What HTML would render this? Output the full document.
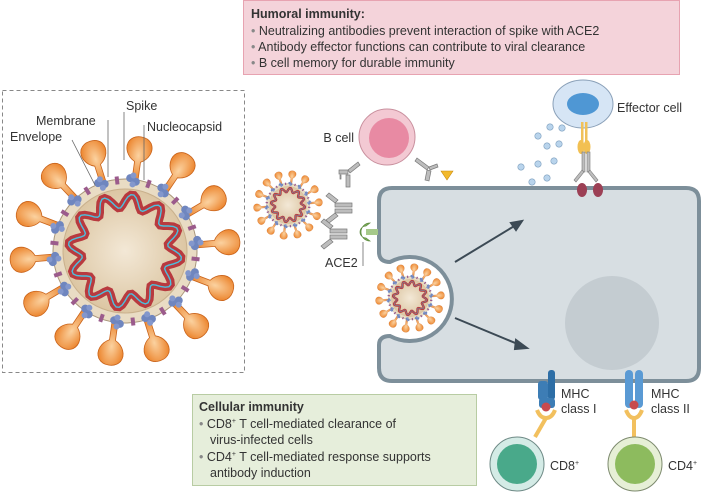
<!DOCTYPE html>
<html><head><style>
body{margin:0;background:#fff;}
svg{display:block;font-family:"Liberation Sans",sans-serif;}
</style></head><body>
<svg id="s" width="703" height="495" viewBox="0 0 703 495" xmlns="http://www.w3.org/2000/svg">
<defs>
<radialGradient id="core" cx="50%" cy="50%" r="50%"><stop offset="0" stop-color="#f3e8d6"/><stop offset="1" stop-color="#dcc6a3"/></radialGradient>
<radialGradient id="bulb" cx="50%" cy="40%" r="60%"><stop offset="0" stop-color="#fbd2a0"/><stop offset="1" stop-color="#ea7b1f"/></radialGradient>
<g id="virus">
  <g id="spikes"></g>
  <circle r="72" fill="#e9dcc4" stroke="#a9967a" stroke-width="1"/>
  <g id="dots"></g>
  <circle r="62" fill="url(#core)" stroke="#c9b08c" stroke-width="1"/>
  <path id="rna" fill="none" stroke="#b83a3f" stroke-width="8" stroke-linecap="round"/>
  <path id="rna2" fill="none" stroke="#4cc0de" stroke-width="1.4"/>
</g>
</defs>

<!-- humoral box -->
<rect x="243.5" y="0.5" width="436" height="74" fill="#f4d3da" stroke="#e7a3b1"/>
<text x="251" y="18" font-size="12.5" font-weight="bold" fill="#333">Humoral immunity:</text>
<text x="251" y="35" font-size="12.5" fill="#333"><tspan fill="#888">•</tspan> Neutralizing antibodies prevent interaction of spike with ACE2</text>
<text x="251" y="51" font-size="12.5" fill="#333"><tspan fill="#888">•</tspan> Antibody effector functions can contribute to viral clearance</text>
<text x="251" y="67" font-size="12.5" fill="#333"><tspan fill="#888">•</tspan> B cell memory for durable immunity</text>

<!-- dashed box -->
<rect x="2.5" y="90.5" width="242" height="282" fill="none" stroke="#888" stroke-dasharray="4,3"/>
<use href="#virus" transform="translate(125,251)"/>
<g stroke="#666" stroke-width="0.8" fill="none">
<line x1="124" y1="112" x2="124" y2="160"/>
<line x1="108" y1="120" x2="108" y2="177"/>
<line x1="72" y1="140" x2="95" y2="185"/>
<line x1="144" y1="125" x2="144" y2="180"/>
</g>
<g font-size="12.5" fill="#333">
<text x="126" y="110">Spike</text>
<text x="36" y="125">Membrane</text>
<text x="10" y="141">Envelope</text>
<text x="147" y="131">Nucleocapsid</text>
</g>

<!-- cell -->
<path d="M398,188 H686 Q699,188 699,201 V368 Q699,381 686,381 H392 Q379,381 379,368 V345 Q379,336 390,336 A42,42 0 1 0 390,262 Q379,262 379,252 V201 Q379,188 392,188 Z" fill="#d7dee2" stroke="#7d8f9a" stroke-width="4"/>
<circle cx="612" cy="323" r="47" fill="#c4ccd1"/>
<g stroke="#3c4a55" stroke-width="2" fill="#3c4a55">
<line x1="455" y1="262" x2="516" y2="225"/>
<path d="M522,221 L511,223 L516,230 Z"/>
<line x1="455" y1="318" x2="520" y2="345"/>
<path d="M527,348 L516,340 L515,349 Z"/>
</g>
<use href="#virus" transform="translate(410,298) scale(0.3)"/>
<use href="#virus" transform="translate(288,205) scale(0.3)"/>

<!-- ACE2 -->
<rect x="366" y="229" width="12" height="6" fill="#a6c98a"/>
<path d="M370,223 A8,8 0 1 0 370,241 L366,238 A5,5 0 0 1 366,226 Z" fill="#7fb05b" stroke="#5c8a3e" stroke-width="0.7"/>
<line x1="363" y1="242" x2="363" y2="266" stroke="#555" stroke-width="0.7"/>
<text x="325" y="267" font-size="12.5" fill="#333">ACE2</text>

<!-- antibodies -->
<g fill="#bdbdbd" stroke="#7a7a7a" stroke-width="0.7">
<!-- near small virus -->
<path d="M335,203 h17 v4 h-17z M335,209 h17 v4 h-17z M335,203 l-9,-7 l3,-3 l9,7z M335,213 l-9,7 l3,3 l9,-7z"/>
<path d="M330,229 h17 v4 h-17z M330,235 h17 v4 h-17z M330,229 l-9,-7 l3,-3 l9,7z M330,239 l-9,7 l3,3 l9,-7z"/>
<!-- left of B cell -->
<path d="M358,162 l-10,8 l2,3 l10,-8z M348,170 h-9 v4 h9z M346,175 v12 h4 v-12z M341,175 h-1 v4 h1z"/>
<!-- right of B cell -->
<path d="M417,158 l12,9 l-2,3 l-12,-9z M429,167 l8,-3 l1,3 l-8,3z M427,170 l-2,10 l4,1 l2,-10z"/>
</g>
<path d="M441,171 h12 l-6,9 z" fill="#f2b92c" stroke="#c88a10" stroke-width="0.6"/>
<!-- B cell -->
<circle cx="387" cy="137" r="28" fill="#f3c9d3" stroke="#c9909e"/>
<circle cx="389" cy="138" r="20" fill="#e88aa3"/>
<text x="354" y="142" font-size="12.5" fill="#333" text-anchor="end">B cell</text>

<!-- effector cell -->
<ellipse cx="583" cy="104" rx="30" ry="24" fill="#d6e5f5" stroke="#8aa0b8"/>
<ellipse cx="583" cy="104" rx="16" ry="11" fill="#4f97d4"/>
<text x="617" y="112" font-size="12.5" fill="#333">Effector cell</text>
<rect x="581" y="122" width="2.5" height="20" fill="#f0c15a"/><rect x="585" y="122" width="2.5" height="20" fill="#f0c15a"/>
<ellipse cx="581" cy="147" rx="3.5" ry="7" fill="#f2c052"/><ellipse cx="587" cy="147" rx="3.5" ry="7" fill="#f2c052"/>
<g fill="#bdbdbd" stroke="#7a7a7a" stroke-width="0.6">
<rect x="582" y="152" width="3" height="20"/><rect x="587" y="152" width="3" height="20"/>
<path d="M582,170 l-8,10 l2,2 l8,-10z M590,170 l8,10 l-2,2 l-8,-10z"/>
</g>
<ellipse cx="582" cy="190" rx="5" ry="7" fill="#9c4055"/><ellipse cx="598" cy="190" rx="5" ry="7" fill="#9c4055"/>
<g fill="#b9d4ec" stroke="#7e9fbe" stroke-width="0.6">
<circle cx="550" cy="127" r="3.2"/><circle cx="562" cy="128" r="3.2"/><circle cx="538" cy="136" r="3.2"/>
<circle cx="547" cy="146" r="3.2"/><circle cx="559" cy="144" r="3.2"/><circle cx="521" cy="167" r="3.2"/>
<circle cx="538" cy="164" r="3.2"/><circle cx="554" cy="161" r="3.2"/><circle cx="532" cy="182" r="3.2"/><circle cx="547" cy="178" r="3.2"/>
</g>

<!-- green box -->
<rect x="192.5" y="394.5" width="284" height="91" fill="#e6eedb" stroke="#b8cca3"/>
<g font-size="12.5" fill="#333">
<text x="199" y="411" font-weight="bold">Cellular immunity</text>
<text x="199" y="428"><tspan fill="#888">•</tspan> CD8<tspan font-size="7" dy="-5">+</tspan><tspan dy="5"> T cell-mediated clearance of</tspan></text>
<text x="210" y="444">virus-infected cells</text>
<text x="199" y="461"><tspan fill="#888">•</tspan> CD4<tspan font-size="7" dy="-5">+</tspan><tspan dy="5"> T cell-mediated response supports</tspan></text>
<text x="210" y="477">antibody induction</text>
</g>

<!-- MHC I -->
<rect x="548" y="370" width="7" height="30" rx="3" fill="#2d6ea6"/>
<rect x="538" y="381" width="10" height="19" rx="3" fill="#3d7db5"/>
<rect x="539" y="398" width="16" height="10" rx="3" fill="#3d7db5"/>
<circle cx="546" cy="407" r="4.5" fill="#c84a4e"/>
<path d="M537,410 q3,8 9,8 q6,0 9,-8" fill="none" stroke="#f2c05e" stroke-width="4"/>
<line x1="546" y1="418" x2="535" y2="437" stroke="#f2c05e" stroke-width="4"/>
<text x="561" y="398" font-size="12.5" fill="#333">MHC</text>
<text x="561" y="413" font-size="12.5" fill="#333">class I</text>
<!-- MHC II -->
<rect x="625" y="370" width="8" height="38" rx="4" fill="#5a9ad4"/>
<rect x="635" y="370" width="8" height="38" rx="4" fill="#5a9ad4"/>
<circle cx="634" cy="405" r="4.5" fill="#c84a4e"/>
<path d="M626,410 q3,8 8,8 q5,0 8,-8" fill="none" stroke="#f2c05e" stroke-width="4"/>
<line x1="634" y1="418" x2="634" y2="437" stroke="#f2c05e" stroke-width="4"/>
<text x="651" y="398" font-size="12.5" fill="#333">MHC</text>
<text x="651" y="413" font-size="12.5" fill="#333">class II</text>
<!-- T cells -->
<circle cx="517" cy="464" r="27" fill="#d4ebe6" stroke="#6e8a86"/>
<circle cx="517" cy="464" r="20" fill="#49a98a"/>
<text x="550" y="470" font-size="12.5" fill="#333">CD8<tspan font-size="7" dy="-5">+</tspan></text>
<circle cx="635" cy="464" r="27" fill="#e6efd6" stroke="#7d8a6e"/>
<circle cx="635" cy="464" r="20" fill="#8dbb5e"/>
<text x="668" y="470" font-size="12.5" fill="#333">CD4<tspan font-size="7" dy="-5">+</tspan></text>
</svg>
<script>
(function(){
var NS="http://www.w3.org/2000/svg";
var sp=document.getElementById('spikes'),dt=document.getElementById('dots');
var n=14;
for(var i=0;i<n;i++){
 var a=i*360/n+8;
 var g=document.createElementNS(NS,'path');
 g.setAttribute('d','M-3,-68 L-3,-90 C-11,-94 -15,-103 -11,-110 C-6,-117 6,-117 11,-110 C15,-103 11,-94 3,-90 L3,-68 Z');
 g.setAttribute('fill','url(#bulb)');g.setAttribute('stroke','#c9631a');g.setAttribute('stroke-width','0.8');
 g.setAttribute('transform','rotate('+a+')');sp.appendChild(g);
}
for(var i=0;i<28;i++){
 var a=(i+0.5)*360/28;
 var c=document.createElementNS(NS,'g');
 c.setAttribute('transform','rotate('+a+') translate(0,-71)');
 c.innerHTML= i%2? '<rect x="-2" y="-4" width="4" height="8" fill="#9b5b8c"/>' :
 '<circle cx="-3" cy="-2" r="4" fill="#6f86bf"/><circle cx="3" cy="1" r="4" fill="#6f86bf"/><circle cx="0" cy="-5" r="3" fill="#8397cc"/><circle cx="0" cy="4" r="3" fill="#8397cc"/>';
 dt.appendChild(c);
}
var d='';
for(var t=0;t<=360;t+=3){
 var r=50+7*Math.sin(t*Math.PI/180*12);
 var x=r*Math.cos(t*Math.PI/180),y=r*Math.sin(t*Math.PI/180);
 d+=(t?'L':'M')+x.toFixed(1)+','+y.toFixed(1);
}
document.getElementById('rna').setAttribute('d',d+'Z');
document.getElementById('rna2').setAttribute('d',d+'Z');
})();
</script>
</body></html>
